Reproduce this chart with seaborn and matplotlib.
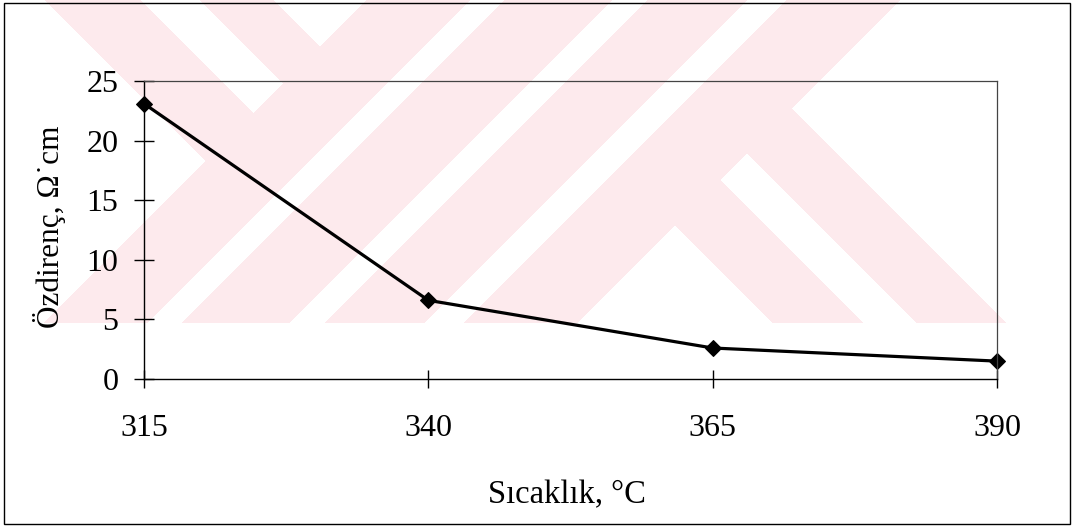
import numpy as np
import pandas as pd
import matplotlib
matplotlib.use("Agg")
import matplotlib.pyplot as plt
from matplotlib.patches import Rectangle
import seaborn as sns

# Resistivity of the film versus deposition temperature
temperature = [315, 340, 365, 390]
resistivity = [23.1, 6.6, 2.6, 1.5]

x_ticks = [315, 340, 365, 390]
y_ticks = [0, 5, 10, 15, 20, 25]
x_label = "Sıcaklık, °C"
y_label = "Özdirenç, Ω˙cm"

sns.set_theme(style="white")
plt.rcParams["font.family"] = ["Liberation Serif", "DejaVu Serif"]

W, H = 1073, 528
fig = plt.figure(figsize=(W / 100, H / 100), dpi=100)
fig.patch.set_facecolor("white")

# --- pale diagonal-band emblem printed behind the chart ---
bg = fig.add_axes([0, 0, 1, 1], zorder=0)
bg.set_axis_off()
yy, xx = np.mgrid[0:H, 0:W] + 0.5
u = xx + yy
v = xx - yy


def band(a, lo, hi):
    return (a >= lo) & (a <= hi)


slashes = band(u, 367, 470) | band(u, 505, 612) | band(u, 648, 747) | band(u, 787, 900)
left_arm = (u < 367) & (band(v, 45, 140) | band(v, 200, 273))
right_arm = (u > 900) & (band(v, 450, 540) | band(v, 594, 683))
emblem = (yy <= 323) & (slashes | left_arm | right_arm)

img = np.ones((H, W, 3))
img[emblem] = np.array([253, 234, 237]) / 255.0
bg.imshow(img, extent=(0, W, H, 0), aspect="auto", interpolation="nearest")
bg.set_xlim(0, W)
bg.set_ylim(H, 0)

# --- main plot ---
ax = fig.add_axes([144 / W, 1 - 379 / H, (997 - 144) / W, (379 - 81) / H], zorder=1)
ax.set_facecolor("none")

df = pd.DataFrame({"Sıcaklık": temperature, "Özdirenç": resistivity})
sns.lineplot(
    data=df, x="Sıcaklık", y="Özdirenç", ax=ax,
    color="black", linewidth=2.3, marker="D", markersize=8.5,
    markeredgecolor="black", markerfacecolor="black", clip_on=False,
)

ax.set_xlim(315, 390)
ax.set_ylim(0, 25)
ax.set_xticks(x_ticks)
ax.set_yticks(y_ticks)
ax.set_xticklabels([str(t) for t in x_ticks])
ax.set_yticklabels([str(t) for t in y_ticks])
ax.set_xlabel("")
ax.set_ylabel("")

ax.tick_params(axis="y", left=True, direction="inout", length=14, width=1,
               pad=11.5, labelsize=23, colors="black")
ax.tick_params(axis="x", bottom=True, direction="inout", length=13, width=1,
               pad=18.5, labelsize=23, colors="black")

for side in ["left", "bottom"]:
    ax.spines[side].set_color("black")
    ax.spines[side].set_linewidth(1.0)
for side in ["top", "right"]:
    ax.spines[side].set_color("#444444")
    ax.spines[side].set_linewidth(0.9)

fig.text(567 / W, 1 - 503 / H, x_label, ha="center", va="baseline",
         fontsize=23.5, color="black")
fig.text(50 / W, 1 - 227 / H, y_label, ha="center", va="center",
         rotation=90, fontsize=22.5, color="black")

# outer frame around the whole figure
fig.add_artist(Rectangle((3.5 / W, 1 - 524 / H), (1069.5 - 3.5) / W, (524 - 2.5) / H,
                         transform=fig.transFigure, fill=False,
                         edgecolor="black", linewidth=1.0))

fig.savefig("out.png", dpi=100, facecolor="white")
